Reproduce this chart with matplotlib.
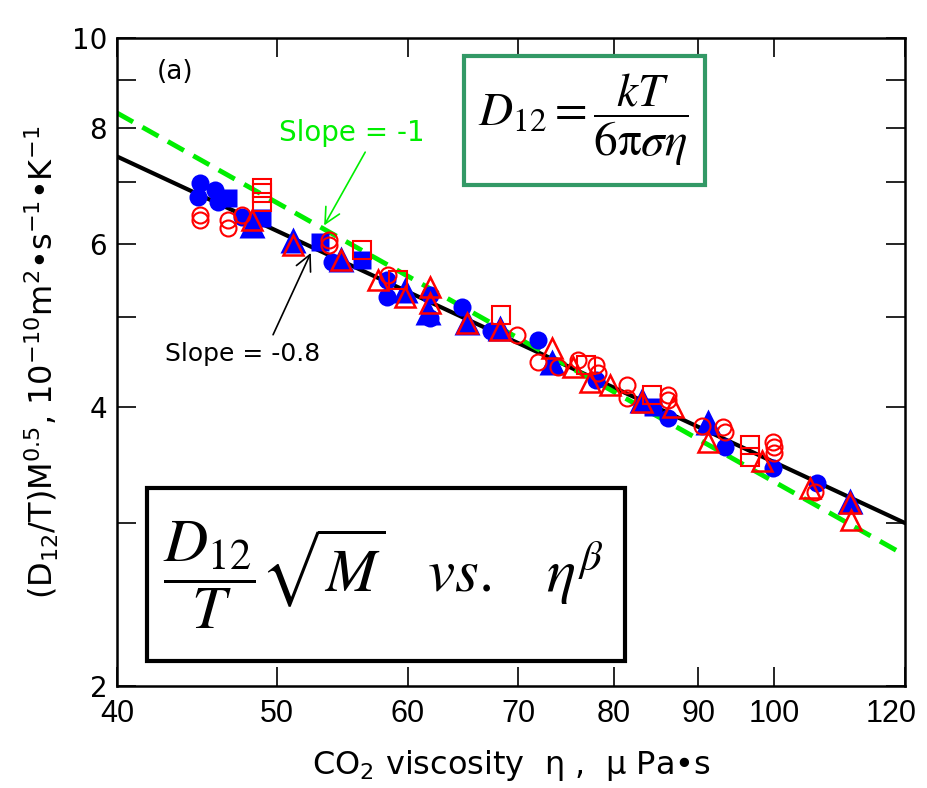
import numpy as np
import matplotlib.pyplot as plt
from matplotlib.patches import Rectangle
from matplotlib.transforms import ScaledTranslation
from matplotlib.ticker import FixedLocator, NullLocator, NullFormatter

plt.rcParams["font.family"] = ["DejaVu Sans"]

# blue filled symbols
bc_x = [44.9, 44.8, 45.85, 46.05, 47.6, 54.0, 58.3, 58.3, 61.9, 61.9, 64.7, 67.4, 72.0, 78.0, 86.2, 93.4, 99.8, 106.1]
bc_y = [6.98, 6.74, 6.86, 6.65, 6.41, 5.73, 5.48, 5.25, 5.28, 4.99, 5.13, 4.83, 4.72, 4.28, 3.89, 3.62, 3.44, 3.31]
bs_x = [46.7, 48.96, 53.1, 56.3, 84.5]
bs_y = [6.72, 6.39, 6.03, 5.76, 4.00]
bt_x = [48.3, 51.1, 54.7, 59.75, 61.7, 65.2, 68.25, 73.4, 83.2, 91.2, 111.2]
bt_y = [6.28, 6.05, 5.78, 5.35, 5.06, 4.94, 4.87, 4.47, 4.07, 3.85, 3.17]

# red open symbols
rc_x = [44.9, 44.9, 46.7, 46.7, 47.6, 53.8, 53.8, 58.4, 69.9, 72.0, 74.0, 76.1, 78.0, 78.2, 81.5, 81.5,
        86.2, 86.2, 90.4, 93.1, 93.4, 99.8, 100.0, 100.0, 105.9]
rc_y = [6.44, 6.36, 6.36, 6.24, 6.44, 6.05, 5.98, 5.55, 4.78, 4.47, 4.42, 4.49, 4.44, 4.35, 4.22, 4.09,
        4.12, 4.07, 3.82, 3.81, 3.76, 3.67, 3.62, 3.57, 3.24]
rs_x = [48.96, 48.96, 48.96, 56.3, 59.2, 68.3, 76.9, 84.4, 96.7, 96.7]
rs_y = [6.89, 6.80, 6.65, 5.91, 5.48, 5.03, 4.44, 4.12, 3.64, 3.53]
rt_x = [48.3, 51.1, 54.7, 57.6, 59.75, 61.9, 61.9, 65.2, 68.25, 73.4, 75.5, 77.4, 79.5, 83.2, 86.8,
        91.2, 98.4, 105.1, 111.2, 111.4]
rt_y = [6.36, 5.98, 5.76, 5.48, 5.26, 5.39, 5.18, 4.93, 4.84, 4.63, 4.42, 4.26, 4.22, 4.05, 4.00,
        3.67, 3.50, 3.27, 3.15, 3.02]

# fit lines (end points)
fit_x = [40, 120]
fit_y = [7.45, 3.0]
slope1_x = [40, 120]
slope1_y = [8.3, 2.77]

x_ticks = [40, 50, 60, 70, 80, 90, 100, 120]
y_major = [2, 4, 6, 8, 10]
y_minor = [3, 5, 7, 9]

fig = plt.figure(figsize=(9.28, 7.88), dpi=100)
ax = fig.add_axes([0.126, 0.129, 0.849, 0.823])
ax.set_xscale("log")
ax.set_yscale("log")
ax.set_xlim(40, 120)
ax.set_ylim(2, 10)

ax.plot(fit_x, fit_y, color="black", lw=3, zorder=2)
ax.plot(slope1_x, slope1_y, color="#00ee00", lw=3.5, ls=(0, (3.8, 2.2)), zorder=2)

ax.plot(bc_x, bc_y, "o", color="#0000ff", ms=13, mec="none", zorder=3)
ax.plot(bs_x, bs_y, "s", color="#0000ff", ms=13, mec="none", zorder=3)
ax.plot(bt_x, bt_y, "^", color="#0000ff", ms=19, mec="none", zorder=3)
ax.plot(rc_x, rc_y, "o", mfc="none", mec="#ff0000", ms=11.5, mew=1.5, zorder=4)
ax.plot(rs_x, rs_y, "s", mfc="none", mec="#ff0000", ms=12.5, mew=1.5, zorder=4)
ax.plot(rt_x, rt_y, "^", mfc="none", mec="#ff0000", ms=14.5, mew=1.8, zorder=4)

ax.xaxis.set_major_locator(FixedLocator(x_ticks))
ax.xaxis.set_minor_locator(NullLocator())
ax.set_xticklabels([str(v) for v in x_ticks], family=["Liberation Sans Narrow", "Liberation Sans"])
ax.yaxis.set_major_locator(FixedLocator(y_major))
ax.yaxis.set_minor_locator(FixedLocator(y_minor))
ax.yaxis.set_minor_formatter(NullFormatter())
ax.set_yticklabels([str(v) for v in y_major])
ax.tick_params(which="both", direction="in", length=14, width=1.2, top=True, right=True, labelsize=20)
ax.tick_params(axis="x", pad=9, labelsize=22)
ax.tick_params(axis="y", pad=7)
last = ax.get_xticklabels()[-1]
last.set_transform(last.get_transform() + ScaledTranslation(-10 / 72, 0, fig.dpi_scale_trans))
for sp in ax.spines.values():
    sp.set_linewidth(1.8)

ax.set_xlabel("CO$_\\mathregular{2}$ viscosity  η ,  μ Pa•s", fontsize=23, labelpad=14)
ax.set_ylabel("(D$_\\mathregular{12}$/T)M$^\\mathregular{0.5}$, 10$^\\mathregular{-10}$m$^\\mathregular{2}$"
              "•s$^\\mathregular{-1}$•K$^\\mathregular{-1}$", fontsize=23, labelpad=8)

fig.text(0.189, 0.908, "(a)", fontsize=19, ha="center", va="center")

# slope annotations
fig.text(0.379, 0.831, "Slope = -1", fontsize=20, color="#00ee00", ha="center", va="center")
ax.annotate("", xy=(53.3, 6.24), xycoords="data", xytext=(0.395, 0.81), textcoords="figure fraction",
            arrowprops=dict(arrowstyle="->", color="#00ee00", lw=1.2, mutation_scale=28))
fig.text(0.261, 0.551, "Slope = -0.8", fontsize=18, color="black", ha="center", va="center")
ax.annotate("", xy=(52.5, 5.9), xycoords="data", xytext=(0.293, 0.572), textcoords="figure fraction",
            arrowprops=dict(arrowstyle="->", color="black", lw=1.2, mutation_scale=28))

# formula boxes
fig.patches.append(Rectangle((0.500, 0.765), 0.260, 0.164, transform=fig.transFigure,
                             facecolor="white", edgecolor="#339966", lw=3, zorder=5))
fig.text(0.629, 0.848, r"$D_{12} = \dfrac{kT}{6\mathrm{\pi}\sigma\eta}$", fontsize=34, ha="center",
         va="center", math_fontfamily="stix", zorder=6)
fig.patches.append(Rectangle((0.158, 0.161), 0.516, 0.220, transform=fig.transFigure,
                             facecolor="white", edgecolor="black", lw=3, zorder=5))
fig.text(0.413, 0.270, r"$\dfrac{D_{12}}{T}\sqrt{M}\quad vs.\quad \eta^{\beta}$", fontsize=44,
         ha="center", va="center", math_fontfamily="stix", zorder=6)

fig.savefig("out.png", dpi=100)
